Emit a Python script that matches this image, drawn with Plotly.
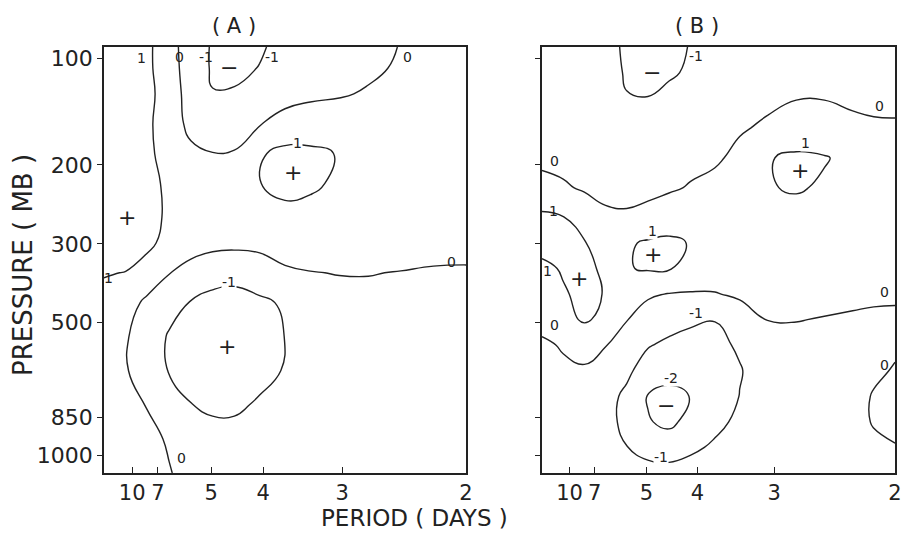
import plotly.graph_objects as go

FONT = "DejaVu Sans"
INK = "#222222"

# axis ticks (positions are fractions across / down each hand-drawn frame)
PERIOD_LABELS = ["10", "7", "5", "4", "3", "2"]
PERIOD_POS = [0.078, 0.149, 0.296, 0.44, 0.658, 1.0]
PRESSURE_LABELS = ["100", "200", "300", "500", "850", "1000"]
PRESSURE_POS = [0.026, 0.277, 0.462, 0.646, 0.869, 0.958]

# panel A grid: columns = period axis fraction, rows = pressure axis fraction (top = 0)
U_A = [0, 0.06, 0.12, 0.18, 0.24, 0.30, 0.36, 0.43, 0.50, 0.57, 0.65, 0.73, 0.82, 0.91, 1.0]
V_A = [0, 0.05, 0.11, 0.18, 0.25, 0.32, 0.40, 0.46, 0.53, 0.60, 0.68, 0.76, 0.84, 0.92, 1.0]
Z_A = [
    [1.5, 1.4, 1.2, 0.37, -0.5, -1.09, -1.3, -1.1, -0.73, -0.55, -0.4, -0.25, 0.03, 0.25, 0.35],
    [1.55, 1.45, 1.2, 0.4, -0.45, -1.1, -1.2, -0.97, -0.7, -0.5, -0.35, -0.15, 0.1, 0.3, 0.4],
    [1.6, 1.5, 1.3, 0.45, -0.35, -0.97, -0.92, -0.75, -0.3, -0.15, -0.08, 0.08, 0.3, 0.45, 0.5],
    [1.6, 1.55, 1.2, 0.4, -0.2, -0.5, -0.4, -0.05, 0.3, 0.4, 0.5, 0.55, 0.6, 0.6, 0.6],
    [1.6, 1.55, 1.2, 0.6, 0.15, 0.02, 0.05, 0.9, 1.25, 1.2, 0.95, 0.7, 0.65, 0.6, 0.6],
    [1.6, 1.6, 1.3, 0.8, 0.45, 0.4, 0.55, 0.98, 1.3, 1.15, 0.85, 0.7, 0.65, 0.6, 0.6],
    [1.55, 1.55, 1.3, 0.85, 0.6, 0.55, 0.6, 0.65, 0.7, 0.7, 0.6, 0.55, 0.5, 0.45, 0.45],
    [1.45, 1.4, 1.2, 0.7, 0.35, 0.25, 0.22, 0.25, 0.3, 0.35, 0.35, 0.33, 0.3, 0.28, 0.28],
    [1.05, 0.98, 0.6, 0.03, -0.3, -0.6, -0.7, -0.5, -0.1, -0.02, 0.02, 0.02, -0.02, -0.08, -0.1],
    [0.75, 0.4, -0.2, -0.6, -1.05, -1.3, -1.35, -1.15, -0.9, -0.45, -0.2, -0.15, -0.15, -0.2, -0.2],
    [0.55, 0.07, -0.4, -1.1, -1.35, -1.45, -1.45, -1.3, -0.99, -0.6, -0.35, -0.25, -0.2, -0.2, -0.2],
    [0.55, 0.06, -0.4, -1.05, -1.3, -1.4, -1.4, -1.25, -0.95, -0.6, -0.35, -0.25, -0.2, -0.2, -0.2],
    [0.6, 0.35, -0.05, -0.55, -0.98, -1.15, -1.15, -0.9, -0.65, -0.45, -0.3, -0.25, -0.2, -0.2, -0.2],
    [0.6, 0.5, 0.25, -0.1, -0.5, -0.7, -0.7, -0.6, -0.45, -0.35, -0.25, -0.2, -0.2, -0.2, -0.2],
    [0.6, 0.55, 0.35, 0.05, -0.3, -0.45, -0.45, -0.4, -0.35, -0.3, -0.25, -0.2, -0.2, -0.2, -0.2],
]

# panel B grid
U_B = [0, 0.06, 0.12, 0.18, 0.24, 0.30, 0.36, 0.42, 0.49, 0.56, 0.64, 0.72, 0.80, 0.88, 0.94, 1.0]
V_B = [0, 0.06, 0.12, 0.19, 0.26, 0.33, 0.40, 0.46, 0.52, 0.58, 0.64, 0.70, 0.76, 0.82, 0.88, 0.94, 1.0]
Z_B = [
    [-0.3, -0.4, -0.55, -0.8, -1.1, -1.25, -1.2, -0.97, -0.75, -0.6, -0.5, -0.4, -0.4, -0.35, -0.3, -0.3],
    [-0.3, -0.4, -0.55, -0.8, -1.05, -1.3, -1.15, -0.85, -0.7, -0.55, -0.45, -0.4, -0.35, -0.35, -0.3, -0.3],
    [-0.3, -0.4, -0.5, -0.7, -0.98, -0.98, -0.7, -0.55, -0.45, -0.35, -0.2, -0.03, -0.03, -0.15, -0.2, -0.2],
    [-0.35, -0.35, -0.4, -0.45, -0.5, -0.5, -0.45, -0.4, -0.3, -0.1, 0.15, 0.4, 0.4, 0.2, 0.12, 0.1],
    [-0.15, -0.25, -0.35, -0.42, -0.42, -0.38, -0.3, -0.2, -0.15, 0.25, 0.95, 1.15, 1.05, 0.8, 0.5, 0.4],
    [0.2, 0.1, -0.1, -0.3, -0.35, -0.25, -0.1, 0.05, 0.3, 0.55, 0.95, 1.08, 0.9, 0.7, 0.55, 0.5],
    [1.2, 1.03, 0.55, 0.2, 0.15, 0.3, 0.45, 0.55, 0.6, 0.65, 0.7, 0.7, 0.65, 0.6, 0.55, 0.5],
    [1.4, 1.35, 1.05, 0.6, 0.9, 1.1, 1.2, 0.95, 0.7, 0.6, 0.55, 0.55, 0.5, 0.45, 0.45, 0.45],
    [0.75, 1.1, 1.2, 0.85, 0.95, 1.08, 1.05, 0.8, 0.55, 0.4, 0.35, 0.35, 0.35, 0.35, 0.35, 0.35],
    [0.55, 0.9, 1.25, 0.95, 0.4, 0.1, -0.03, -0.08, -0.05, 0.15, 0.15, 0.2, 0.2, 0.15, 0.1, 0.08],
    [0.4, 0.75, 1.1, 0.8, 0.03, -0.35, -0.7, -0.88, -0.98, -0.5, 0.02, 0.02, -0.03, -0.08, -0.1, -0.1],
    [-0.2, 0.1, 0.3, 0.03, -0.5, -0.95, -1.15, -1.25, -1.2, -0.9, -0.35, -0.2, -0.2, -0.2, -0.15, -0.1],
    [-0.4, -0.2, -0.1, -0.3, -0.85, -1.35, -1.6, -1.65, -1.5, -1.05, -0.6, -0.45, -0.4, -0.3, -0.12, 0.05],
    [-0.5, -0.45, -0.5, -0.75, -1.15, -2.05, -2.3, -1.98, -1.6, -0.98, -0.6, -0.5, -0.4, -0.25, 0.05, 0.25],
    [-0.45, -0.45, -0.5, -0.75, -1.2, -1.95, -2.15, -1.8, -1.25, -0.8, -0.55, -0.45, -0.4, -0.25, 0.05, 0.25],
    [-0.4, -0.4, -0.45, -0.65, -0.98, -1.4, -1.6, -1.2, -0.85, -0.6, -0.5, -0.4, -0.35, -0.25, -0.15, -0.05],
    [-0.35, -0.35, -0.4, -0.5, -0.6, -0.6, -0.57, -0.55, -0.5, -0.45, -0.4, -0.35, -0.3, -0.25, -0.15, -0.1],
]

# hand-written contour labels and signs: (text, u, v, cut line?)
LABELS_A = [
    ("1", 0.105, 0.026, False), ("0", 0.208, 0.023, False), ("-1", 0.283, 0.023, False),
    ("-1", 0.465, 0.023, False), ("0", 0.837, 0.023, False), ("1", 0.535, 0.225, True),
    ("1", 0.012, 0.542, False), ("0", 0.961, 0.505, False), ("-1", 0.346, 0.552, True),
    ("0", 0.213, 0.965, False),
]
SIGNS_A = [("−", 0.346, 0.047), ("+", 0.521, 0.294), ("+", 0.064, 0.40), ("+", 0.341, 0.704)]
LABELS_B = [
    ("-1", 0.436, 0.021, False), ("0", 0.036, 0.267, False), ("0", 0.955, 0.138, False),
    ("1", 0.746, 0.225, True), ("1", 0.033, 0.384, False), ("1", 0.312, 0.431, True),
    ("1", 0.016, 0.525, False), ("0", 0.036, 0.653, False), ("0", 0.97, 0.576, False),
    ("-1", 0.436, 0.625, True), ("-2", 0.365, 0.778, True), ("0", 0.97, 0.747, False),
    ("-1", 0.337, 0.963, True),
]
SIGNS_B = [("−", 0.312, 0.061), ("+", 0.732, 0.29), ("+", 0.315, 0.487), ("+", 0.105, 0.543),
           ("−", 0.351, 0.841)]


def contour(u, v, z, xa, ya):
    return go.Contour(
        x=u, y=v, z=z, xaxis=xa, yaxis=ya,
        contours=dict(start=-2, end=1, size=1, coloring="none"),
        line=dict(color=INK, width=1.4, smoothing=1.3),
        showscale=False, hoverinfo="skip",
    )


fig = go.Figure([contour(U_A, V_A, Z_A, "x", "y"), contour(U_B, V_B, Z_B, "x2", "y2")])

annotations = []
for labels, signs, xr, yr in [(LABELS_A, SIGNS_A, "x", "y"), (LABELS_B, SIGNS_B, "x2", "y2")]:
    for text, u, v, cut in labels:
        annotations.append(dict(
            text=text, x=u, y=v, xref=xr, yref=yr, showarrow=False,
            font=dict(family=FONT, size=14, color=INK),
            bgcolor="white" if cut else None, borderpad=0,
        ))
    for text, u, v in signs:
        annotations.append(dict(
            text=text, x=u, y=v, xref=xr, yref=yr, showarrow=False,
            font=dict(family=FONT, size=22, color=INK),
        ))

big = dict(family=FONT, color=INK)
titles = [
    ("( A )", 0.2506, 0.9656, 0, 21),
    ("( B )", 0.7640, 0.9656, 0, 21),
    ("PERIOD ( DAYS )", 0.4512, 0.0267, 0, 23),
    ("PRESSURE ( MB )", 0.0166, 0.5095, -90, 26),
]
for text, x, y, angle, size in titles:
    annotations.append(dict(
        text=text, x=x, y=y, xref="paper", yref="paper", showarrow=False,
        xanchor="center", yanchor="middle", textangle=angle, font=dict(size=size, **big),
    ))

xaxis = dict(
    range=[0, 1], showgrid=False, zeroline=False, showline=True, mirror=True,
    linecolor=INK, linewidth=1.5, ticks="inside", ticklen=6, tickcolor=INK,
    tickvals=PERIOD_POS, ticktext=PERIOD_LABELS, automargin=False,
    ticklabeloverflow="allow",
    tickfont=dict(family=FONT, size=21, color=INK),
)
yaxis = dict(
    range=[1, 0], showgrid=False, zeroline=False, showline=True, mirror=True,
    linecolor=INK, linewidth=1.5, ticks="outside", ticklen=5, tickcolor=INK,
    tickvals=PRESSURE_POS, ticktext=PRESSURE_LABELS, automargin=False,
    tickfont=dict(family=FONT, size=22, color=INK),
)

# the page body adds an 8px margin, so the figure is sized to fit inside the window
fig.update_layout(
    width=902, height=524,
    margin=dict(l=0, r=0, t=0, b=0),
    paper_bgcolor="white", plot_bgcolor="white",
    showlegend=False,
    xaxis=dict(xaxis, domain=[0.1064, 0.5078], anchor="y"),
    yaxis=dict(yaxis, domain=[0.1126, 0.9256], anchor="x"),
    xaxis2=dict(xaxis, domain=[0.5920, 0.9834], anchor="y2"),
    yaxis2=dict(yaxis, domain=[0.1126, 0.9256], anchor="x2", showticklabels=False),
    annotations=annotations,
)

fig.write_html("out.html")
